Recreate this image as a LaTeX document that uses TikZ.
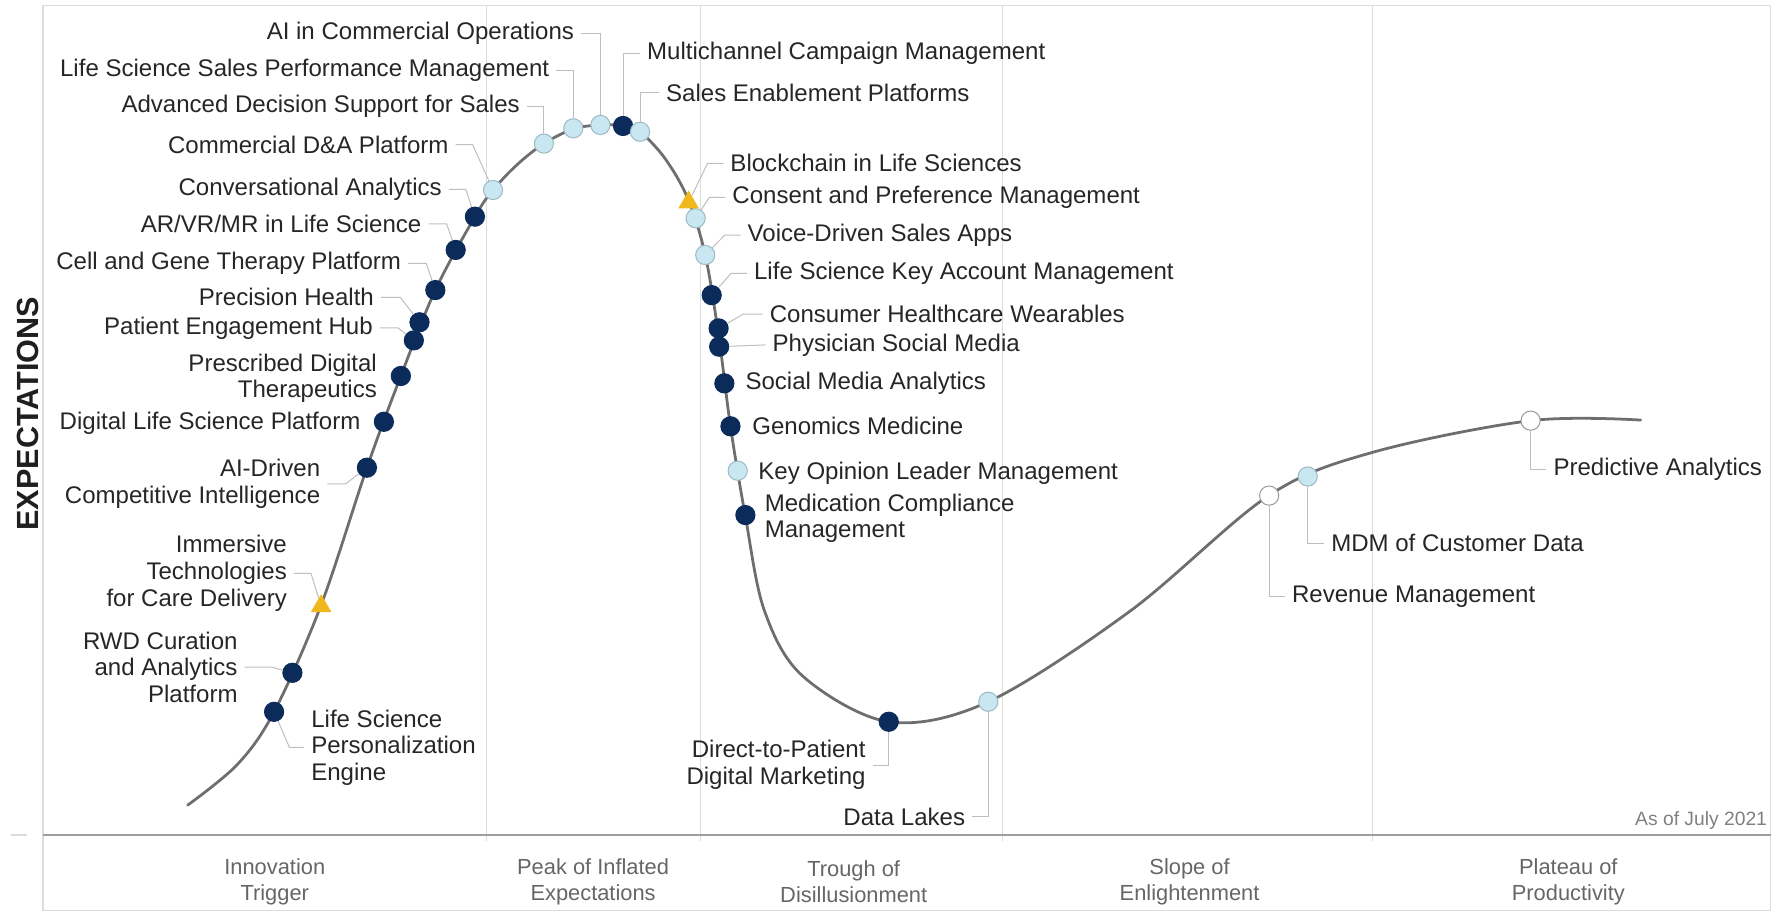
\documentclass[tikz,border=0pt]{standalone}
\usepackage{fontspec}
\setmainfont{Liberation Sans}
\usetikzlibrary{shapes.geometric}
\definecolor{hcnavy}{HTML}{0B2C5A}
\definecolor{hcsky}{HTML}{C8E7F0}
\definecolor{hcskyline}{HTML}{9CB9C4}
\definecolor{hcgold}{HTML}{F0B81A}
\definecolor{hccurve}{HTML}{6E6E6E}
\definecolor{hcleader}{HTML}{BEBEBE}
\definecolor{hcframe}{HTML}{DCDCDC}
\definecolor{hctext}{HTML}{262626}
\definecolor{hcphase}{HTML}{666666}

\begin{document}
\begin{tikzpicture}[x=0.02cm, y=-0.02cm,
    darkdot/.style={circle, fill=hcnavy, draw=hcnavy, line width=0.5pt, minimum size=0.34cm, inner sep=0pt},
    skydot/.style={circle, fill=hcsky, draw=hcskyline, line width=0.5pt, minimum size=0.34cm, inner sep=0pt},
    whitedot/.style={circle, fill=white, draw=black!40, line width=0.5pt, minimum size=0.34cm, inner sep=0pt},
    goldtri/.style={regular polygon, regular polygon sides=3, fill=hcgold, minimum size=0.42cm, inner sep=0pt},
    lbl/.style={font=\fontsize{12.1}{13.4}\selectfont, text=hctext, inner xsep=3.4pt, inner ysep=1pt},
    phase/.style={font=\fontsize{11}{13.2}\selectfont, text=hcphase, align=center},
    leader/.style={draw=hcleader, line width=0.5pt}]
    \useasboundingbox (0,0) rectangle (1568,809);

    % frame and phases
    \draw[hcframe, line width=0.6pt] (38,5) rectangle (1566,805);
    \foreach \x in {430.3, 619.3, 886.6, 1213.8} \draw[hcframe, line width=0.6pt] (\x,5) -- (\x,744);
    \draw[black!38, line width=1pt] (38,738.5) -- (1566,738.5);
    \draw[hcframe, line width=0.8pt] (10,738.5) -- (24,738.5);
    \node[rotate=90, font=\fontsize{15.4}{16}\selectfont\bfseries, text=black!88] (ylab) at (25,366) {EXPECTATIONS};
    \node[phase] (ph1) at (243,780) {Innovation\\Trigger};
    \node[phase] (ph2) at (524.5,780) {Peak of Inflated\\Expectations};
    \node[phase] (ph3) at (755,780) {Trough of\\Disillusionment};
    \node[phase] (ph4) at (1052,780) {Slope of\\Enlightenment};
    \node[phase] (ph5) at (1387,780) {Plateau of\\Productivity};
    \node[anchor=east, font=\fontsize{9.7}{11}\selectfont, text=black!50, inner sep=0pt] (asof) at (1563,726) {As of July 2021};

    % hype curve
    \draw[hccurve, line width=1.4pt, line cap=round] plot[smooth, tension=0.55] coordinates {
        (166,712) (210,676) (242.4,629.5) (284,535) (324.5,413.6)
        (354.5,332.5) (385,256.5) (420,191.6) (436,168) (458,145) (481,127) (507,114)
        (531,110.5) (551,111) (566,116.5) (588,140) (608,175) (623.7,225.5) (636,300)
        (646,377) (659,455.5) (676,540) (710,598) (786,638.3)
        (874,620.6) (1000,540) (1122,438.3) (1214,400) (1353.6,372) (1451,371.5)};

    % markers
    \foreach \n/\x/\y in {lsp/242.4/629.5, rwd/258.6/595, aid/324.5/413.6, dls/339.5/373,
        pdt/354.5/332.5, peh/366/301, prh/371/285, cgt/385/256.5, arv/403/221, cva/420/191.6,
        mcm/551/111.4, kam/629.4/261, chw/635.5/290.4, psm/636/306.6, sma/640.6/339,
        gen/646/377, mcl/659.2/455.5, dtp/786/638.3}
        \node[darkdot] (\n) at (\x,\y) {};
    \foreach \n/\x/\y in {cda/436/168, ads/481/127, ssp/507/113.5, aic/531/110.5,
        sep/566/116.5, cpm/615.2/193, vds/623.7/225.5, kol/652.4/416.3, dlk/874/620.6,
        mdm/1156.5/421.4}
        \node[skydot] (\n) at (\x,\y) {};
    \foreach \n/\x/\y in {rvm/1122.4/438.3, pra/1353.6/372}
        \node[whitedot] (\n) at (\x,\y) {};
    \node[goldtri] (imm) at (284,536) {};
    \node[goldtri] (blc) at (609,179) {};

    % labels left of the curve
    \node[lbl, anchor=east] (aic-l) at (514,29.5) {AI in Commercial Operations};
    \draw[leader] (aic-l.east) -| (aic);
    \node[lbl, anchor=east] (ssp-l) at (492,62) {Life Science Sales Performance Management};
    \draw[leader] (ssp-l.east) -| (ssp);
    \node[lbl, anchor=east] (ads-l) at (466,94.3) {Advanced Decision Support for Sales};
    \draw[leader] (ads-l.east) -| (ads);
    \node[lbl, anchor=east] (cda-l) at (403,128) {Commercial D\&A Platform};
    \draw[leader] (cda-l.east) -- ++(15,0) -- (cda);
    \node[lbl, anchor=east] (cva-l) at (397,167.5) {Conversational Analytics};
    \draw[leader] (cva-l.east) -- ++(15,0) -- (cva);
    \node[lbl, anchor=east] (arv-l) at (379,198) {AR/VR/MR in Life Science};
    \draw[leader] (arv-l.east) -- ++(16,0) -- (arv);
    \node[lbl, anchor=east] (cgt-l) at (361,233) {Cell and Gene Therapy Platform};
    \draw[leader] (cgt-l.east) -- ++(16,0) -- (cgt);
    \node[lbl, anchor=east] (prh-l) at (337,263) {Precision Health};
    \draw[leader] (prh-l.east) -- ++(17,0) -- (prh);
    \node[lbl, anchor=east] (peh-l) at (336,290) {Patient Engagement Hub};
    \draw[leader] (peh-l.east) -- ++(16,0) -- (peh);
    \node[lbl, anchor=east, align=right] (pdt-l) at (339.6,334.7) {Prescribed Digital\\Therapeutics};
    \node[lbl, anchor=east] (dls-l) at (325,374) {Digital Life Science Platform};
    \node[lbl, anchor=east, align=right] (aid-l) at (289.5,428) {AI-Driven\\Competitive Intelligence};
    \draw[leader] (aid-l.east) -- ++(16,0) -- (aid);
    \node[lbl, anchor=east, align=right] (imm-l) at (260,507) {Immersive\\Technologies\\for Care Delivery};
    \draw[leader] (imm-l.east) -- ++(15,0) -- (imm);
    \node[lbl, anchor=east, align=right] (rwd-l) at (216.4,590) {RWD Curation\\and Analytics\\Platform};
    \draw[leader] (rwd-l.east) -- ++(24,0) -- (rwd);
    \node[lbl, anchor=west, align=left] (lsp-l) at (269,661) {Life Science\\Personalization\\Engine};
    \draw[leader] (lsp-l.west) -- ++(-13,0) -- (lsp);

    % labels right of the curve
    \node[lbl, anchor=west] (mcm-l) at (566,47) {Multichannel Campaign Management};
    \draw[leader] (mcm-l.west) -| (mcm);
    \node[lbl, anchor=west] (sep-l) at (582.8,82) {Sales Enablement Platforms};
    \draw[leader] (sep-l.west) -| (sep);
    \node[lbl, anchor=west] (blc-l) at (639.7,144.5) {Blockchain in Life Sciences};
    \draw[leader] (blc-l.west) -- ++(-14,0) -- (blc);
    \node[lbl, anchor=west] (cpm-l) at (641.4,174.5) {Consent and Preference Management};
    \draw[leader] (cpm-l.west) -- ++(-14,0) -- (cpm);
    \node[lbl, anchor=west] (vds-l) at (654.9,208) {Voice-Driven Sales Apps};
    \draw[leader] (vds-l.west) -- ++(-14,0) -- (vds);
    \node[lbl, anchor=west] (kam-l) at (660.6,241.7) {Life Science Key Account Management};
    \draw[leader] (kam-l.west) -- ++(-14,0) -- (kam);
    \node[lbl, anchor=west] (chw-l) at (674.5,277.7) {Consumer Healthcare Wearables};
    \draw[leader] (chw-l.west) -- ++(-17,0) -- (chw);
    \node[lbl, anchor=west] (psm-l) at (677,305) {Physician Social Media};
    \draw[leader] (psm-l.west) -- (psm);
    \node[lbl, anchor=west] (sma-l) at (653,339) {Social Media Analytics};
    \node[lbl, anchor=west] (gen-l) at (659,377) {Genomics Medicine};
    \node[lbl, anchor=west] (kol-l) at (664.4,418.7) {Key Opinion Leader Management};
    \node[lbl, anchor=west, align=left] (mcl-l) at (670,458.5) {Medication Compliance\\Management};

    % labels hanging below the curve
    \node[lbl, anchor=east, align=right] (dtp-l) at (771.8,676.6) {Direct-to-Patient\\Digital Marketing};
    \draw[leader] (dtp) |- (dtp-l.east);
    \node[lbl, anchor=east] (dlk-l) at (859.8,722.3) {Data Lakes};
    \draw[leader] (dlk) |- (dlk-l.east);
    \node[lbl, anchor=west] (rvm-l) at (1136.4,527.3) {Revenue Management};
    \draw[leader] (rvm) |- (rvm-l.west);
    \node[lbl, anchor=west] (mdm-l) at (1171,480.3) {MDM of Customer Data};
    \draw[leader] (mdm) |- (mdm-l.west);
    \node[lbl, anchor=west] (pra-l) at (1367.6,415) {Predictive Analytics};
    \draw[leader] (pra) |- (pra-l.west);
\end{tikzpicture}
\end{document}
